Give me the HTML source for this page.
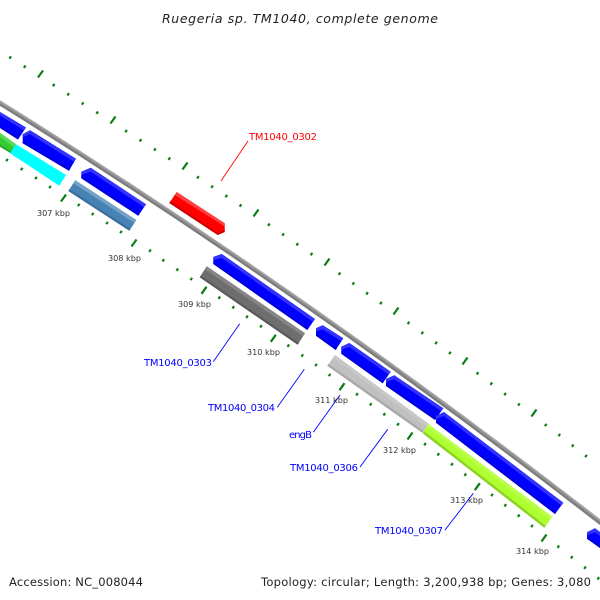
<!DOCTYPE html>
<html>
<head>
<meta charset="utf-8">
<style>
html,body{margin:0;padding:0;background:#fff;width:600px;height:600px;overflow:hidden}
svg{display:block}
text{font-family:"DejaVu Sans","Liberation Sans",sans-serif}
.k{font-size:8px;fill:#333}
.l{font-size:10px;fill:#0000ff}
.f{font-size:11.5px;fill:#222}
.hb{fill:#3333ff}.db{fill:#0000d8}
</style>
</head>
<body>
<svg width="600" height="600" viewBox="0 0 600 600" xmlns="http://www.w3.org/2000/svg">
<rect width="600" height="600" fill="#fff"/>

<!-- backbone -->
<path d="M-5 100 Q300 289 605 526" fill="none" stroke="#7c7c7c" stroke-width="4.8"/>
<path d="M-5 99 Q300 288 605 525" fill="none" stroke="#909090" stroke-width="2.2"/>
<path d="M-5 98 Q300 287 605 524" fill="none" stroke="#acacac" stroke-width="1"/>

<!-- outer ticks -->
<g stroke="#0a7d14" stroke-width="2.2" fill="none">
<path d="M38 77.500L43 70.500M110.500 123.500L115.500 116.500M182.500 169.500L187.500 162.500M253.500 216.500L258.500 209.500M324.500 265.500L329.500 258.500M393.500 314.500L398.500 307.500M462.500 364.500L467.500 357.500M531.500 416.500L536.500 409.500"/>
<path d="M61 201.500L66 194.500M131.500 246.500L136.500 239.500M201.500 293.800L206.500 286.800M270.800 341.800L275.800 334.800M339.500 390.200L344.500 383.200M407.500 439.500L412.500 432.500M474.800 490.200L479.800 483.200M541.500 541.500L546.500 534.500"/>
</g>
<g stroke="#0a7d14" stroke-width="2.2" fill="none">
<path d="M9.400 58.700l1.600-2.400M23.900 67.900l1.600-2.400M52.900 86.300l1.600-2.400M67.400 95.500l1.600-2.400M81.900 104.700l1.600-2.400M96.400 113.900l1.600-2.400M125.300 132.300l1.600-2.400M139.700 141.500l1.600-2.400M154.100 150.700l1.600-2.400M168.500 159.900l1.600-2.400M197.100 178.500l1.600-2.400M211.300 187.900l1.600-2.400M225.500 197.300l1.600-2.400M239.700 206.700l1.600-2.400M268.100 225.900l1.600-2.400M282.300 235.700l1.600-2.400M296.500 245.500l1.600-2.400M310.700 255.300l1.600-2.400M338.700 274.900l1.600-2.400M352.500 284.700l1.600-2.400M366.300 294.500l1.600-2.400M380.100 304.300l1.600-2.400M407.700 324.100l1.600-2.400M421.500 334.100l1.600-2.400M435.300 344.100l1.600-2.400M449.100 354.100l1.600-2.400M476.700 374.500l1.600-2.400M490.500 384.900l1.600-2.400M504.300 395.300l1.600-2.400M518.100 405.700l1.600-2.400M544.900 426.200l1.600-2.400M558.500 436.200l1.600-2.400M571.900 446.900l1.600-2.400M585.200 457.200l1.600-2.400"/>
<path d="M6.200 161.200l1.600-2.400M20.900 170.200l1.600-2.400M35.200 179.200l1.600-2.400M49.200 188.200l1.600-2.400M77.900 206.200l1.600-2.400M91.900 215.200l1.600-2.400M106.200 224.200l1.600-2.400M120.200 233.200l1.600-2.400M149.200 251.900l1.600-2.400M162.500 261.500l1.600-2.400M176.500 270.900l1.600-2.400M190.500 280.200l1.600-2.400M218.500 298.900l1.600-2.400M232.500 308.500l1.600-2.400M246.200 318l1.600-2.400M260.200 327.500l1.600-2.400M287.500 346.900l1.600-2.400M301.500 356.700l1.600-2.400M315.200 366.200l1.600-2.400M328.800 376.200l1.600-2.400M356.200 395.500l1.600-2.400M369.900 405.500l1.600-2.400M383.500 415.500l1.600-2.400M397.200 425.500l1.600-2.400M424.200 445.400l1.600-2.400M437.500 455.500l1.600-2.400M451.200 465.500l1.600-2.400M464.500 475.900l1.600-2.400M491.200 496.200l1.600-2.400M504.500 506.500l1.600-2.400M517.900 516.900l1.600-2.400M531.200 527.200l1.600-2.400M557.500 547.900l1.600-2.400M570.900 558.500l1.600-2.400M584.200 568.900l1.600-2.400M597.500 579.500l1.600-2.400"/>
</g>

<!-- blue genes -->
<g fill="#0000ff">
<polygon points="0,112 26,127.5 18,139.5 0,128"/>
<polygon points="30,130.3 22.700,134.300 22.700,143.300 69,170.700 76,158.700"/>
<polygon points="90.700,167.700 81.300,171.700 81.300,178.300 138.300,215.700 146,204.300"/>
<polygon points="221.700,254 213.300,257 213.300,264 307.300,330 315,319"/>
<polygon points="322.700,325.300 316,328.300 316,335.700 335.700,350 343.300,338.300"/>
<polygon points="349.300,343 341.300,346.700 341.300,353.700 382.700,383.300 390.700,371.700"/>
<polygon points="394.300,375.300 386,379 386,386 435,420 443.300,408.300"/>
<polygon points="444,412 436,416 436,422.700 555,514 563.300,502.700"/>
<polygon points="595,528.300 587,532.300 587,538.700 600,548 600,532"/>
</g>
<polygon class="hb" points="0,112 26,127.5 24.100,130.400 0,115.500"/>
<polygon class="hb" points="22.700,134.300 30,130.300 76,158.700 74.100,161.600 30,134.300 22.700,137.300"/>
<polygon class="hb" points="81.300,171.700 90.700,167.700 146,204.300 144.100,207.200 90.700,171.700 81.300,174.700"/>
<polygon class="hb" points="213.300,257 221.700,254 315,319 313.100,321.900 221.700,258 213.300,260"/>
<polygon class="hb" points="316,328.300 322.700,325.300 343.300,338.300 341.400,341.200 322.700,329.300 316,331.300"/>
<polygon class="hb" points="341.300,346.700 349.300,343 390.700,371.700 388.800,374.600 349.300,347 341.300,349.700"/>
<polygon class="hb" points="386,379 394.300,375.300 443.300,408.300 441.400,411.200 394.300,379.300 386,382"/>
<polygon class="hb" points="436,416 444,412 563.300,502.700 561.400,505.600 444,416 436,419"/>
<polygon class="hb" points="587,532.300 595,528.300 600,532 600,536 595,532.300 587,535.300"/>
<polygon class="db" points="18,139.5 19.200,137.700 0,126.300 0,128"/>
<polygon class="db" points="22.700,143.300 69,170.700 70.200,168.900 22.700,141.100"/>
<polygon class="db" points="81.300,178.300 138.300,215.700 139.500,213.900 81.300,176.100"/>
<polygon class="db" points="213.300,264 307.300,330 308.500,328.200 213.300,261.800"/>
<polygon class="db" points="316,335.700 335.700,350 336.900,348.200 316,333.500"/>
<polygon class="db" points="341.300,353.700 382.700,383.300 383.900,381.500 341.300,351.500"/>
<polygon class="db" points="386,386 435,420 436.200,418.200 386,383.800"/>
<polygon class="db" points="436,422.700 555,514 556.200,512.200 436,420.500"/>
<polygon class="db" points="587,538.700 600,548 600,545.800 587,536.500"/>

<!-- lime green -->
<polygon points="0,132.700 16,144.300 10.700,153.300 0,146.700" fill="#32cd32"/>
<polygon points="0,132.700 16,144.300 14.100,147.200 0,136.500" fill="#5cd85c"/>
<polygon points="0,146.700 10.700,153.300 11.900,151.500 0,144.500" fill="#2ba82b"/>
<!-- cyan -->
<polygon points="16,144.300 66,175 59.300,185.700 10,153.300" fill="#00ffff"/>
<!-- steel blue -->
<polygon points="75.300,180.300 136.300,220 129.300,230.700 68.300,191" fill="#4682b4"/>
<polygon points="75.300,180.300 136.300,220 134.400,222.900 73.400,183.200" fill="#75a1c7"/>
<polygon points="68.300,191 129.300,230.700 130.500,228.900 69.500,189.200" fill="#3b6f9a"/>
<!-- red -->
<polygon points="176.700,192 224.700,223.300 224.700,232 217.700,235 169.300,203" fill="#ff0000"/>
<polygon points="176.700,192 224.700,223.300 224.700,226.500 174.800,195" fill="#ff4040"/>
<polygon points="169.300,203 217.700,235 224.700,232 224.700,230 218,233 170.500,201" fill="#cc0000"/>
<!-- dim gray -->
<polygon points="206.700,266.300 305,333.300 297.700,344.700 199.700,277.300" fill="#6e6e6e"/>
<polygon points="206.700,266.300 305,333.300 303.100,336.200 204.800,269.200" fill="#858585"/>
<polygon points="199.700,277.300 297.700,344.700 298.900,342.900 200.900,275.500" fill="#595959"/>
<!-- silver -->
<polygon points="335,355 429.300,424.300 422.300,432.700 327.300,365.700" fill="#c0c0c0"/>
<polygon points="335,355 429.300,424.300 427.400,427.200 333.100,357.900" fill="#c8c8c8"/>
<polygon points="327.300,365.700 422.300,432.700 423.500,430.900 328.500,363.900" fill="#a8a8a8"/>
<!-- green-yellow -->
<polygon points="428.300,424 552.300,516.700 544.300,527.700 422.700,433.300" fill="#adff2f"/>
<polygon points="428.300,424 552.300,516.700 550.400,519.600 426.400,426.900" fill="#b9ff4c"/>
<polygon points="422.700,433.300 544.300,527.700 545.700,525.700 424.100,431.300" fill="#8ed126"/>

<!-- leader lines -->
<g stroke="#0000ff" stroke-width="0.9" fill="none">
<path d="M213.300 361.700L239.700 323.700"/>
<path d="M277.300 407.300L304.300 369.300"/>
<path d="M313.300 432.300L340 395"/>
<path d="M360 467L387.700 429.300"/>
<path d="M445 530L473.300 493.300"/>
</g>
<path d="M248 141L221 181" stroke="#ff0000" stroke-width="0.9" fill="none"/>

<!-- kbp labels -->
<text class="k" x="37" y="216" textLength="33" lengthAdjust="spacingAndGlyphs">307 kbp</text>
<text class="k" x="108" y="261" textLength="33" lengthAdjust="spacingAndGlyphs">308 kbp</text>
<text class="k" x="178" y="307" textLength="33" lengthAdjust="spacingAndGlyphs">309 kbp</text>
<text class="k" x="247" y="355" textLength="33" lengthAdjust="spacingAndGlyphs">310 kbp</text>
<text class="k" x="315" y="403" textLength="33" lengthAdjust="spacingAndGlyphs">311 kbp</text>
<text class="k" x="383" y="453" textLength="33" lengthAdjust="spacingAndGlyphs">312 kbp</text>
<text class="k" x="450" y="503" textLength="33" lengthAdjust="spacingAndGlyphs">313 kbp</text>
<text class="k" x="516" y="554" textLength="33" lengthAdjust="spacingAndGlyphs">314 kbp</text>

<!-- gene labels -->
<text class="l" x="249" y="140" textLength="68" style="fill:#ff0000">TM1040_0302</text>
<text class="l" x="144" y="366" textLength="68">TM1040_0303</text>
<text class="l" x="208" y="411" textLength="67">TM1040_0304</text>
<text class="l" x="289" y="438" textLength="23">engB</text>
<text class="l" x="290" y="471" textLength="68">TM1040_0306</text>
<text class="l" x="375" y="534" textLength="68">TM1040_0307</text>

<!-- title and footer -->
<text x="162" y="23" font-size="12.5" font-style="italic" fill="#222" textLength="276">Ruegeria sp. TM1040, complete genome</text>
<text class="f" x="9" y="586" textLength="134">Accession: NC_008044</text>
<text class="f" x="261" y="586" textLength="330">Topology: circular; Length: 3,200,938 bp; Genes: 3,080</text>
</svg>
</body>
</html>
